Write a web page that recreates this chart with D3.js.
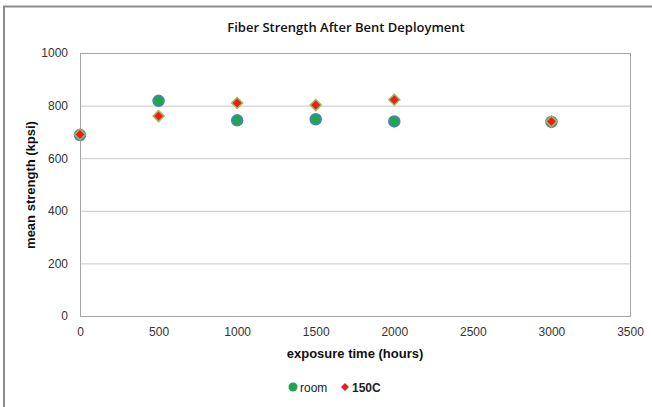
<!DOCTYPE html>
<html><head><meta charset="utf-8">
<script src="https://cdn.jsdelivr.net/npm/d3@7"></script>
<style>
body{margin:0;background:#fff;}
svg{display:block;font-family:"Liberation Sans",Arial,sans-serif;}
</style></head>
<body>
<svg id="c" width="652" height="407"></svg>
<script>
const hours = [0, 500, 1000, 1500, 2000, 3000];
const roomValues = [688, 818, 744, 748, 740, 738];
const hotValues = [690, 760, 810, 802, 822, 740];
const xTicks = [0, 500, 1000, 1500, 2000, 2500, 3000, 3500];
const yTicks = [0, 200, 400, 600, 800, 1000];
const seriesNames = ["room", "150C"];

const svg = d3.select("#c");
const L = 80, R = 630, T = 53, B = 316;
const x = d3.scaleLinear().domain([0, 3500]).range([L, R]);
const y = d3.scaleLinear().domain([0, 1000]).range([B, T]);

// outer chart border
svg.append("path").attr("d", `M4,407 V6.5 H652`).attr("fill","none").attr("stroke","#8c8c8c").attr("stroke-width",2);

// title
svg.append("text").attr("x", 346).attr("y", 32).attr("text-anchor","middle")
  .attr("font-family","'Open Sans',sans-serif").attr("font-size",13).attr("font-weight",600).attr("fill","#111")
  .text("Fiber Strength After Bent Deployment");

// gridlines
svg.append("g").selectAll("line").data(yTicks.filter(d=>d>0 && d<1000)).join("line")
  .attr("x1", L).attr("x2", R).attr("y1", d=>y(d)+0.5).attr("y2", d=>y(d)+0.5)
  .attr("stroke","#c8c8c8").attr("stroke-width",1);

// plot border
svg.append("rect").attr("x", L+0.5).attr("y", T+0.5).attr("width", R-L).attr("height", B-T)
  .attr("fill","none").attr("stroke","#a6a6a6");

// y axis
const yAxis = d3.axisLeft(y).tickValues(yTicks).tickSize(0).tickPadding(12).tickFormat(d3.format("d"));
const gy = svg.append("g").attr("transform",`translate(${L},0)`).call(yAxis);
gy.select(".domain").attr("stroke","#a6a6a6");
gy.selectAll("text").attr("font-size",12).attr("fill","#333");

// x axis
const xAxis = d3.axisBottom(x).tickValues(xTicks).tickSize(0).tickPadding(11).tickFormat(d3.format("d"));
const gx = svg.append("g").attr("transform",`translate(0,${B})`).call(xAxis);
gx.select(".domain").attr("stroke","#a6a6a6");
gx.selectAll("text").attr("font-size",12).attr("fill","#333");

// axis titles
svg.append("text").attr("x", 355).attr("y", 358).attr("text-anchor","middle")
  .attr("font-size",13).attr("font-weight","bold").attr("fill","#111").text("exposure time (hours)");
svg.append("text").attr("transform","translate(35,185) rotate(-90)").attr("text-anchor","middle")
  .attr("font-size",13).attr("font-weight","bold").attr("fill","#111").text("mean strength (kpsi)");

const diamondPath = r => `M0,${-r}L${r},0L0,${r}L${-r},0Z`;

// room series
svg.append("g").selectAll("circle").data(hours.map((h,i)=>({h, v: roomValues[i]}))).join("circle")
  .attr("cx", d=>x(d.h)).attr("cy", d=>y(d.v)).attr("r", 5.5)
  .attr("fill","#1fa653").attr("stroke","#4f81bd").attr("stroke-width",1.5);

// 150C series
svg.append("g").selectAll("path").data(hours.map((h,i)=>({h, v: hotValues[i]}))).join("path")
  .attr("transform", d=>`translate(${x(d.h)},${y(d.v)})`).attr("d", diamondPath(5.5))
  .attr("fill","#f01c1c").attr("stroke","#9bbb59").attr("stroke-width",1.5);

// legend
const lg = svg.append("g");
lg.append("circle").attr("cx", 293).attr("cy", 387).attr("r", 4.5).attr("fill","#1fa653");
lg.append("text").attr("x", 300).attr("y", 391.5).attr("font-size",12).attr("fill","#222").text(seriesNames[0]);
lg.append("path").attr("transform","translate(345,387)").attr("d", diamondPath(4)).attr("fill","#f01c1c");
lg.append("text").attr("x", 352).attr("y", 391.5).attr("font-size",12).attr("font-weight","bold").attr("fill","#222").text(seriesNames[1]);
</script>
</body></html>
